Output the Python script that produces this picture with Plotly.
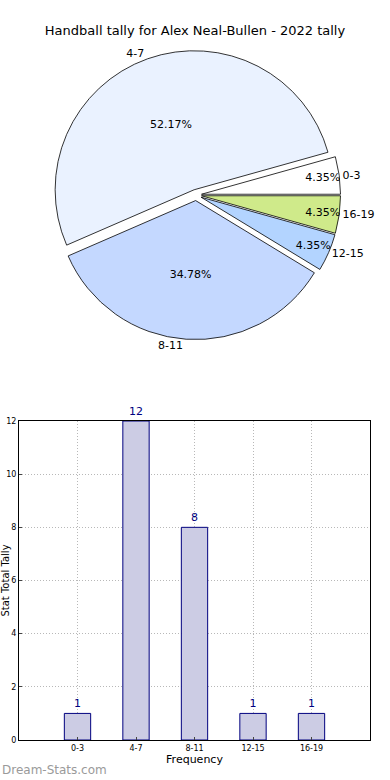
import plotly.graph_objects as go

categories = ["0-3", "4-7", "8-11", "12-15", "16-19"]
tally = [1, 12, 8, 1, 1]
pie_colors = ["#FFFFFF", "#EAF2FF", "#C4D8FF", "#B3D4FF", "#CFEA8A"]
title_text = "Handball tally for Alex Neal-Bullen - 2022 tally"

W, H = 390, 780
ML, MR, MT, MB = 19, 20, 0, 40
PW, PH = W - ML - MR, H - MT - MB

def fy(py):
    return (H - MB - py) / PH

pull = 0.04
r = 139
cx, cy = 196, 195
half = r * (1 + pull)
pie_domain_y = [fy(cy + half), fy(cy - half)]
pie_domain_x = [(cx - half - ML) / PW, (cx + half - ML) / PW]
pie_rotation = 90 - 360 * tally[0] / sum(tally)

fig = go.Figure()

fig.add_trace(go.Pie(
    labels=categories, values=tally, sort=False, direction="counterclockwise",
    rotation=pie_rotation, pull=[pull] * len(categories),
    marker=dict(colors=pie_colors, line=dict(color="#000000", width=0.8)),
    texttemplate="%{percent:.2%}", textposition="inside", insidetextorientation="horizontal",
    textfont=dict(family="DejaVu Sans", size=11, color="#000000"),
    domain=dict(x=pie_domain_x, y=pie_domain_y), showlegend=False, hoverinfo="label+value",
))
fig.add_trace(go.Pie(
    labels=categories, values=tally, sort=False, direction="counterclockwise",
    rotation=pie_rotation, pull=[pull] * len(categories),
    marker=dict(colors=["rgba(0,0,0,0)"] * len(categories), line=dict(width=0)),
    texttemplate="%{label}", textposition="outside",
    outsidetextfont=dict(family="DejaVu Sans", size=11, color="#000000"),
    domain=dict(x=pie_domain_x, y=pie_domain_y), showlegend=False, hoverinfo="skip",
))

fig.add_trace(go.Bar(
    x=categories, y=tally, width=0.45,
    marker=dict(color="#CCCCE4", line=dict(color="#00007F", width=1)),
    text=[str(v) for v in tally], textposition="outside",
    textfont=dict(family="DejaVu Sans", size=11, color="#00007F"),
    cliponaxis=False, showlegend=False, xaxis="x", yaxis="y",
))

grid = dict(showgrid=True, gridcolor="#B8B8B8", griddash="1px,2px", gridwidth=1)
fig.update_layout(
    width=W, height=H,
    margin=dict(l=ML, r=MR, t=MT, b=MB, autoexpand=False),
    paper_bgcolor="white", plot_bgcolor="white",
    font=dict(family="DejaVu Sans", color="#000000"),
    uniformtext=dict(minsize=11, mode="show"),
    title=dict(text=title_text, x=0.5, xanchor="center", y=1 - 30 / H, yanchor="middle",
               font=dict(family="DejaVu Sans", size=13, color="#000000"), automargin=False),
    xaxis=dict(domain=[0, 1], range=[-1, 5], type="category", tickfont=dict(size=8),
               ticks="inside", ticklen=3, showline=True, linecolor="black", linewidth=1, mirror=True,
               title=dict(text="Frequency", font=dict(size=11), standoff=2), zeroline=False,
               automargin=False, **grid),
    yaxis=dict(domain=[0, fy(421)], range=[0, 12], tickvals=[0, 2, 4, 6, 8, 10, 12],
               tickfont=dict(size=8), ticks="inside", ticklen=3,
               showline=True, linecolor="black", linewidth=1, mirror=True, zeroline=False,
               title=dict(text="Stat Total Tally", font=dict(size=10), standoff=12),
               automargin=False, **grid),
    annotations=[dict(text="Dream-Stats.com", xref="paper", yref="paper",
                      x=-ML / PW, y=-(770 - (H - MB)) / PH, xanchor="left", yanchor="middle",
                      showarrow=False, font=dict(family="DejaVu Sans", size=12, color="#9A9A9A"))],
)

fig.write_html("out.html", config={"displayModeBar": False},
               post_script="document.body.style.margin='0';")
